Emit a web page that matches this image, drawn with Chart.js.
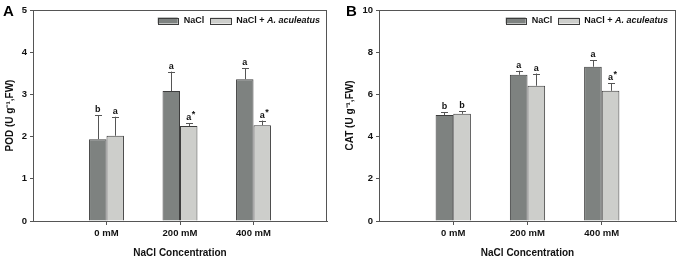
<!DOCTYPE html>
<html>
<head>
<meta charset="utf-8">
<script src="https://cdn.jsdelivr.net/npm/chart.js@4"></script>
<style>
  body { margin: 0; background: #fff; }
  .wrap { display: flex; width: 680px; height: 259px; }
  .panel { position: relative; width: 340px; height: 259px; }
</style>
</head>
<body>
<div class="wrap">
  <div class="panel"><canvas id="podChart"></canvas></div>
  <div class="panel"><canvas id="catChart"></canvas></div>
</div>
<script>
const categories = ["0 mM", "200 mM", "400 mM"];
const seriesNames = ["NaCl", "NaCl + A. aculeatus"];

const podNacl = [1.94, 3.08, 3.36];
const podNaclErr = [0.57, 0.46, 0.26];
const podFungus = [2.02, 2.25, 2.27];
const podFungusErr = [0.45, 0.07, 0.11];
const podNaclLetters = ["b", "a", "a"];
const podFungusLetters = ["a", "a*", "a*"];
const podTicks = [0, 1, 2, 3, 4, 5];

const catNacl = [5.02, 6.93, 7.31];
const catNaclErr = [0.13, 0.19, 0.31];
const catFungus = [5.08, 6.41, 6.17];
const catFungusErr = [0.12, 0.58, 0.35];
const catNaclLetters = ["b", "a", "a"];
const catFungusLetters = ["b", "a", "a*"];
const catTicks = [0, 2, 4, 6, 8, 10];

const DARK = "#7e8280";
const LIGHT = "#cdcecb";
const EDGE = "#3d3d3d";
const AXIS = "#555";
const TEXT = "#111";
const FONT = "Liberation Sans, Arial, sans-serif";

// pad the category axis with an empty slot each side, like the original plot
const pad = (arr) => [null, ...arr, null];
const labels = ["", ...categories, ""];

const errorBars = {
  id: "errorBars",
  afterDatasetsDraw(chart, args, opts) {
    const { ctx } = chart;
    const y = chart.scales.y;
    ctx.save();
    chart.data.datasets.forEach((ds, i) => {
      const meta = chart.getDatasetMeta(i);
      ds.errors.forEach((err, k) => {
        const bar = meta.data[k + 1];
        if (!bar) return;
        const top = y.getPixelForValue(ds.data[k + 1] + err);
        ctx.strokeStyle = AXIS;
        ctx.lineWidth = 1;
        ctx.beginPath();
        ctx.moveTo(Math.round(bar.x) + 0.5, bar.y);
        ctx.lineTo(Math.round(bar.x) + 0.5, top);
        ctx.moveTo(Math.round(bar.x) - 3, Math.round(top) + 0.5);
        ctx.lineTo(Math.round(bar.x) + 4, Math.round(top) + 0.5);
        ctx.stroke();

        const letter = ds.letters[k];
        const star = letter.endsWith("*");
        ctx.fillStyle = TEXT;
        ctx.font = `bold 9px ${FONT}`;
        ctx.textAlign = "center";
        ctx.textBaseline = "alphabetic";
        ctx.fillText(star ? letter.slice(0, -1) : letter, bar.x, top - 3);
        if (star) {
          ctx.textAlign = "left";
          ctx.fillText("*", bar.x + 3, top - 6);
        }
      });
    });
    ctx.restore();
  },
};

const frameAndLegend = {
  id: "frameAndLegend",
  afterDraw(chart, args, opts) {
    const { ctx, chartArea: a } = chart;
    ctx.save();
    ctx.strokeStyle = AXIS;
    ctx.lineWidth = 1;
    ctx.strokeRect(Math.round(a.left) + 0.5, Math.round(a.top) + 0.5,
      Math.round(a.right - a.left) - 1, Math.round(a.bottom - a.top));

    // legend, laid out from the right edge
    ctx.font = `bold 9px ${FONT}`;
    const plain = "NaCl + ";
    const ital = "A. aculeatus";
    const wPlain = ctx.measureText(plain).width;
    ctx.font = `italic bold 9px ${FONT}`;
    const wItal = ctx.measureText(ital).width;
    ctx.font = `bold 9px ${FONT}`;
    const w1 = ctx.measureText(seriesNames[0]).width;
    const cy = a.top + 10.5;
    let x = a.right - opts.rightGap - wItal - wPlain;
    ctx.fillStyle = TEXT;
    ctx.textBaseline = "middle";
    ctx.textAlign = "left";
    ctx.fillText(plain, x, cy);
    ctx.font = `italic bold 9px ${FONT}`;
    ctx.fillText(ital, x + wPlain, cy);
    const sw2 = x - 5 - 21;
    const t1 = sw2 - 6 - w1;
    const sw1 = t1 - 6 - 20;
    ctx.font = `bold 9px ${FONT}`;
    ctx.fillText(seriesNames[0], t1, cy);
    ctx.strokeStyle = EDGE;
    ctx.fillStyle = DARK;
    ctx.fillRect(sw1, cy - 3, 20, 6);
    ctx.strokeRect(Math.round(sw1) + 0.5, Math.round(cy - 3) + 0.5, 20, 6);
    ctx.fillStyle = LIGHT;
    ctx.fillRect(sw2, cy - 3, 21, 6);
    ctx.strokeRect(Math.round(sw2) + 0.5, Math.round(cy - 3) + 0.5, 21, 6);

    // panel letter
    ctx.fillStyle = "#000";
    ctx.font = `bold 15px ${FONT}`;
    ctx.textBaseline = "alphabetic";
    ctx.fillText(opts.panel, opts.panelX, 16);
    ctx.restore();
  },
};

const makeChart = (id, cfg) => {
  const tickFont = { family: FONT, size: 9.5, weight: "bold" };
  return new Chart(document.getElementById(id), {
    type: "bar",
    data: {
      labels,
      datasets: [
        {
          label: seriesNames[0],
          data: pad(cfg.nacl),
          errors: cfg.naclErr,
          letters: cfg.naclLetters,
          backgroundColor: DARK,
          borderColor: EDGE,
          borderWidth: 1,
        },
        {
          label: seriesNames[1],
          data: pad(cfg.fungus),
          errors: cfg.fungusErr,
          letters: cfg.fungusLetters,
          backgroundColor: LIGHT,
          borderColor: EDGE,
          borderWidth: 1,
        },
      ],
    },
    options: {
      responsive: true,
      maintainAspectRatio: false,
      animation: false,
      barPercentage: 1,
      categoryPercentage: 0.475,
      layout: { padding: { top: 10, right: cfg.rightPad, bottom: 0, left: 0 } },
      plugins: {
        legend: { display: false },
        tooltip: { enabled: false },
        frameAndLegend: { panel: cfg.panel, panelX: cfg.panelX, rightGap: cfg.rightGap },
      },
      scales: {
        x: {
          offset: false,
          grid: {
            offset: false,
            drawOnChartArea: false,
            tickLength: 4,
            tickColor: (c) => (c.index === 0 || c.index === labels.length - 1 ? "rgba(0,0,0,0)" : AXIS),
          },
          border: { color: AXIS },
          ticks: { font: tickFont, color: TEXT, padding: 3, maxRotation: 0, autoSkip: false },
          title: {
            display: true,
            text: "NaCl Concentration",
            font: { family: FONT, size: 10, weight: "bold" },
            color: TEXT,
            padding: { top: 0, bottom: 0 },
          },
          afterFit: (s) => { s.height = 38; },
        },
        y: {
          min: 0,
          max: cfg.ticks[cfg.ticks.length - 1],
          afterBuildTicks: (s) => { s.ticks = cfg.ticks.map((v) => ({ value: v })); },
          grid: { drawOnChartArea: false, tickLength: 3, tickColor: AXIS },
          border: { color: AXIS },
          ticks: { font: tickFont, color: TEXT, padding: 3 },
          title: {
            display: true,
            text: cfg.yTitle,
            font: { family: FONT, size: 10, weight: "bold" },
            color: TEXT,
            padding: { top: 4, bottom: 0 },
          },
          afterFit: (s) => { s.width = cfg.yWidth; },
        },
      },
    },
    plugins: [errorBars, frameAndLegend],
  });
};

makeChart("podChart", {
  nacl: podNacl, naclErr: podNaclErr, naclLetters: podNaclLetters,
  fungus: podFungus, fungusErr: podFungusErr, fungusLetters: podFungusLetters,
  ticks: podTicks, yTitle: "POD (U g\u207B\u00B9,FW)",
  yWidth: 33, rightPad: 13, rightGap: 7, panel: "A", panelX: 3,
});

makeChart("catChart", {
  nacl: catNacl, naclErr: catNaclErr, naclLetters: catNaclLetters,
  fungus: catFungus, fungusErr: catFungusErr, fungusLetters: catFungusLetters,
  ticks: catTicks, yTitle: "CAT (U g\u207B\u00B9,FW)",
  yWidth: 39, rightPad: 4, rightGap: 8, panel: "B", panelX: 6,
});
</script>
</body>
</html>
